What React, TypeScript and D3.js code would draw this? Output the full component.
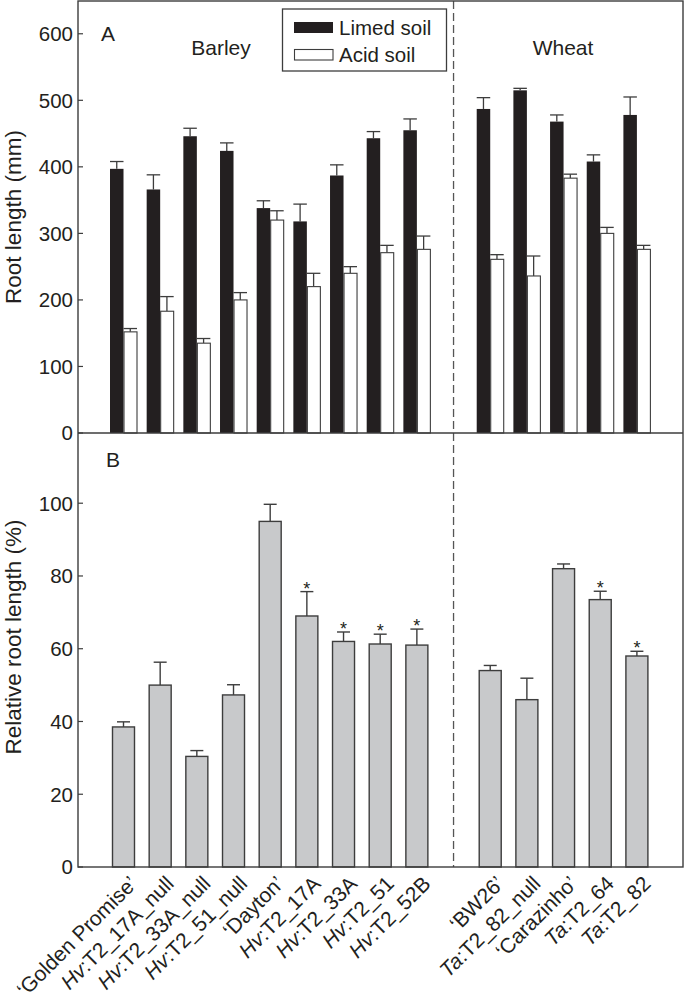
import React from "react";
import * as d3 from "d3";

const barleyLines = ["‘Golden Promise’", "Hv:T2_17A_null", "Hv:T2_33A_null", "Hv:T2_51_null", "‘Dayton’", "Hv:T2_17A", "Hv:T2_33A", "Hv:T2_51", "Hv:T2_52B"];
const wheatLines = ["‘BW26’", "Ta:T2_82_null", "‘Carazinho’", "Ta:T2_64", "Ta:T2_82"];
const SPACER = "__gap__";

const limedBarley = [397, 366, 446, 424, 338, 318, 387, 443, 455];
const limedBarleyErr = [11, 22, 12, 12, 11, 26, 16, 10, 17];
const acidBarley = [152, 183, 135, 200, 320, 220, 240, 271, 276];
const acidBarleyErr = [5, 22, 7, 11, 14, 20, 10, 11, 20];
const limedWheat = [487, 515, 468, 408, 478];
const limedWheatErr = [17, 3, 10, 10, 27];
const acidWheat = [261, 236, 383, 300, 276];
const acidWheatErr = [7, 30, 6, 9, 6];

const relBarley = [38.5, 50, 30.4, 47.3, 95, 69, 62, 61.3, 61];
const relBarleyErr = [1.4, 6.3, 1.6, 2.8, 4.7, 6.7, 2.6, 2.7, 4.4];
const relBarleySig = [false, false, false, false, false, true, true, true, true];
const relWheat = [54, 46, 82, 73.5, 58];
const relWheatErr = [1.4, 5.9, 1.3, 2.3, 1.3];
const relWheatSig = [false, false, false, true, true];

const ticksA = [0, 100, 200, 300, 400, 500, 600];
const ticksB = [0, 20, 40, 60, 80, 100];

const FONT = "'Liberation Sans', Arial, Helvetica, sans-serif";
const INK = "#231f20";
const EDGE = "#3d3d3d";

const left = 78, right = 683, top = 1, mid = 433, bottom = 867;

export default function App() {
  const cats = [...barleyLines, SPACER, ...wheatLines];
  const x = d3.scalePoint<string>().domain(cats).range([123.5, 636.9]);
  const yA = d3.scaleLinear().domain([0, 650]).range([mid, 0.5]);
  const yB = d3.scaleLinear().domain([0, 119.3]).range([bottom, mid]);

  const rowsA = [
    ...barleyLines.map((c, i) => ({ c, l: limedBarley[i], le: limedBarleyErr[i], a: acidBarley[i], ae: acidBarleyErr[i] })),
    ...wheatLines.map((c, i) => ({ c, l: limedWheat[i], le: limedWheatErr[i], a: acidWheat[i], ae: acidWheatErr[i] })),
  ];
  const rowsB = [
    ...barleyLines.map((c, i) => ({ c, v: relBarley[i], e: relBarleyErr[i], s: relBarleySig[i] })),
    ...wheatLines.map((c, i) => ({ c, v: relWheat[i], e: relWheatErr[i], s: relWheatSig[i] })),
  ];
  const dashX = x(SPACER)!;

  const label = (name: string) => {
    const idx = name.indexOf(":");
    if (idx > 0 && !name.startsWith("‘")) {
      return (
        <>
          <tspan fontStyle="italic">{name.slice(0, idx)}</tspan>
          <tspan>{name.slice(idx)}</tspan>
        </>
      );
    }
    return name;
  };

  return (
    <svg width={684} height={1004} style={{ position: "absolute", left: 0, top: 0, background: "#fff" }} fontFamily={FONT}>
      {/* Panel A bars */}
      {rowsA.map((r) => {
        const c = x(r.c)!;
        return (
          <g key={"a" + r.c}>
            <line x1={c - 6.75} x2={c - 6.75} y1={yA(r.l)} y2={yA(r.l + r.le)} stroke={EDGE} strokeWidth={1.3} />
            <line x1={c - 13.5} x2={c} y1={yA(r.l + r.le)} y2={yA(r.l + r.le)} stroke={EDGE} strokeWidth={1.3} />
            <rect x={c - 13.5} y={yA(r.l)} width={13.5} height={mid - yA(r.l)} fill={INK} />
            <line x1={c + 6.75} x2={c + 6.75} y1={yA(r.a)} y2={yA(r.a + r.ae)} stroke={EDGE} strokeWidth={1.3} />
            <line x1={c} x2={c + 13.5} y1={yA(r.a + r.ae)} y2={yA(r.a + r.ae)} stroke={EDGE} strokeWidth={1.3} />
            <rect x={c + 0.5} y={yA(r.a)} width={13} height={mid - yA(r.a)} fill="#fff" stroke={EDGE} strokeWidth={1.1} />
          </g>
        );
      })}
      {/* Panel B bars */}
      {rowsB.map((r) => {
        const c = x(r.c)!;
        return (
          <g key={"b" + r.c}>
            <line x1={c} x2={c} y1={yB(r.v)} y2={yB(r.v + r.e)} stroke={EDGE} strokeWidth={1.4} />
            <line x1={c - 6.5} x2={c + 6.5} y1={yB(r.v + r.e)} y2={yB(r.v + r.e)} stroke={EDGE} strokeWidth={1.4} />
            <rect x={c - 11} y={yB(r.v)} width={22} height={bottom - yB(r.v)} fill="#c8c9cb" stroke={EDGE} strokeWidth={1.4} />
            {r.s && (
              <text x={c} y={yB(r.v + r.e) + 3} textAnchor="middle" fontSize={18} fill={INK}>*</text>
            )}
          </g>
        );
      })}
      {/* dashed separator */}
      <line x1={dashX} x2={dashX} y1={top} y2={bottom} stroke="#555" strokeWidth={1.3} strokeDasharray="8,4" />
      {/* frame */}
      <rect x={left} y={top} width={right - left} height={bottom - top} fill="none" stroke={EDGE} strokeWidth={1.4} />
      <line x1={left} x2={right} y1={mid} y2={mid} stroke={EDGE} strokeWidth={1.4} />
      {/* ticks A */}
      {ticksA.map((t) => (
        <g key={"ta" + t}>
          <line x1={left} x2={left + 5} y1={yA(t)} y2={yA(t)} stroke={EDGE} strokeWidth={1.2} />
          <text x={left - 5} y={yA(t)} dy="0.36em" textAnchor="end" fontSize={20.5} fill={INK}>{t}</text>
        </g>
      ))}
      {ticksB.map((t) => (
        <g key={"tb" + t}>
          <line x1={left} x2={left + 5} y1={yB(t)} y2={yB(t)} stroke={EDGE} strokeWidth={1.2} />
          <text x={left - 5} y={yB(t)} dy="0.36em" textAnchor="end" fontSize={20.5} fill={INK}>{t}</text>
        </g>
      ))}
      {/* axis titles */}
      <text transform={`translate(21,${(top + mid) / 2}) rotate(-90)`} textAnchor="middle" fontSize={22.5} fill={INK}>Root length (mm)</text>
      <text transform={`translate(21,637) rotate(-90)`} textAnchor="middle" fontSize={22.5} fill={INK}>Relative root length (%)</text>
      {/* panel letters & group titles */}
      <text x={101} y={41} fontSize={21} fill={INK}>A</text>
      <text x={106} y={467} fontSize={21} fill={INK}>B</text>
      <text x={221} y={55} textAnchor="middle" fontSize={21} fill={INK}>Barley</text>
      <text x={563} y={55} textAnchor="middle" fontSize={21} fill={INK}>Wheat</text>
      {/* legend */}
      <rect x={282.5} y={9} width={164} height={62} fill="#fff" stroke={EDGE} strokeWidth={1.3} />
      <rect x={294} y={22} width={39} height={11} fill={INK} />
      <rect x={294.5} y={49.5} width={38.5} height={10.5} fill="#fff" stroke={EDGE} strokeWidth={1.1} />
      <text x={339} y={35} fontSize={20.5} fill={INK}>Limed soil</text>
      <text x={339} y={62} fontSize={20.5} fill={INK}>Acid soil</text>
      {/* x labels */}
      {cats.filter((c) => c !== SPACER).map((c) => (
        <text key={"xl" + c} transform={`translate(${x(c)! + 15},${bottom + 18}) rotate(-45)`} textAnchor="end" fontSize={21} fill={INK}>
          {label(c)}
        </text>
      ))}
    </svg>
  );
}
